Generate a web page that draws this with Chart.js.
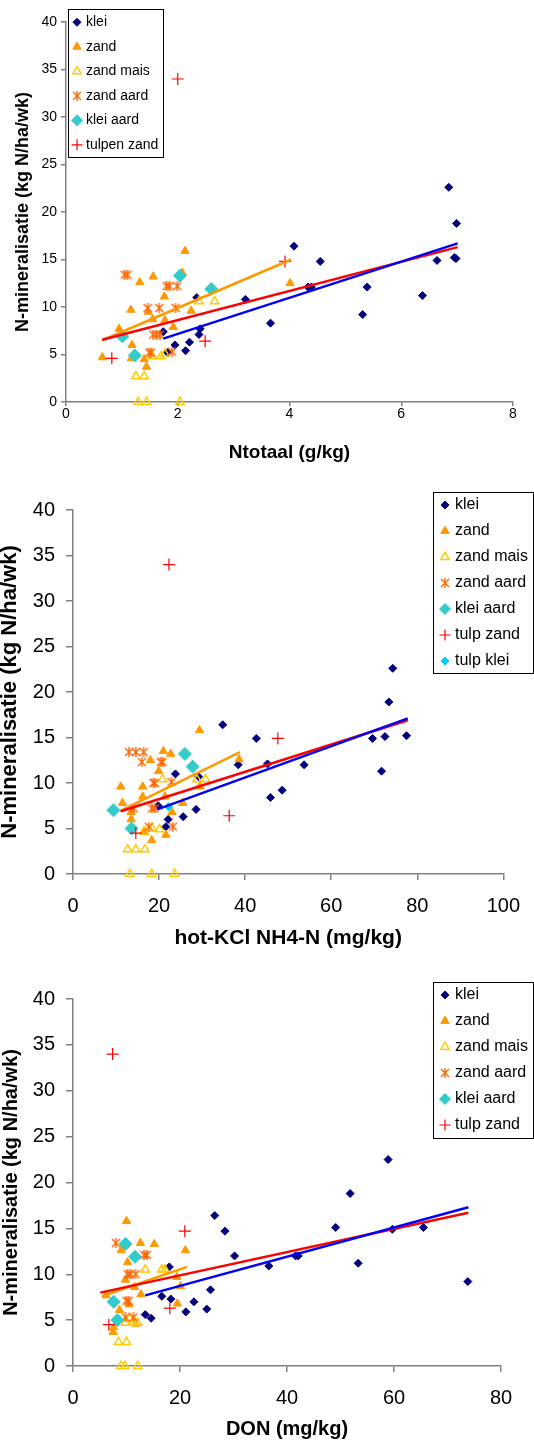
<!DOCTYPE html>
<html>
<head>
<meta charset="utf-8">
<script src="https://cdn.jsdelivr.net/npm/chart.js@4/dist/chart.umd.min.js"></script>
<style>
  body { margin: 0; background: #fff; width: 534px; height: 1445px; position: relative; overflow: hidden; }
  canvas { position: absolute; left: 0; }
</style>
</head>
<body>
<canvas id="chartNtot" width="534" height="480" style="top:0"></canvas>
<canvas id="chartKcl" width="534" height="480" style="top:480px"></canvas>
<canvas id="chartDon" width="534" height="485" style="top:960px"></canvas>
<script>
// --- chart 1: Ntotaal (g/kg) vs N-mineralisatie ---
const klei1 = [[1.74,7.4],[1.82,5.2],[1.95,6.0],[2.14,5.4],[2.21,6.3],[2.34,11.0],[2.38,7.1],[2.40,7.7],[3.21,10.8],[3.66,8.3],[4.08,16.4],[4.33,12.1],[4.39,12.1],[4.55,14.8],[5.31,9.2],[5.39,12.1],[6.38,11.2],[6.64,14.9],[6.85,22.6],[6.95,15.2],[6.98,15.1],[6.99,18.8]];
const zand1 = [[0.65,4.7],[0.95,7.7],[1.16,9.7],[1.18,6.0],[1.17,4.6],[1.32,12.6],[1.40,4.5],[1.44,3.7],[1.47,9.5],[1.56,13.2],[1.55,8.7],[1.76,11.1],[1.77,8.6],[1.92,7.9],[2.08,13.6],[2.13,15.9],[2.24,9.6],[4.01,12.5]];
const zandMais1 = [[1.25,2.7],[1.40,2.7],[1.29,0],[1.44,0],[2.04,0],[1.55,4.8],[1.70,4.8],[1.77,5.1],[2.38,10.6],[2.66,10.6]];
const zandAard1 = [[1.05,13.4],[1.10,13.4],[1.46,9.9],[1.67,9.9],[1.96,9.9],[1.49,5.2],[1.52,5.2],[1.56,7.1],[1.62,7.1],[1.68,7.1],[1.80,12.2],[1.85,12.2],[1.99,12.2],[1.90,5.3]];
const kleiAard1 = [[1.01,6.9],[1.23,4.9],[2.04,13.3],[2.60,11.9]];
const tulpZand1 = [[0.82,4.6],[2.49,6.4],[3.92,14.8],[2.0,34.0]];
const trendZand1 = [[0.65,6.5],[4.03,15.0]];
const trendAll1 = [[0.65,6.55],[7.01,16.3]];
const trendKlei1 = [[1.74,6.67],[7.01,16.7]];

// --- chart 2: hot-KCl NH4-N (mg/kg) ---
const klei2 = [[19.8,7.5],[22.1,6.0],[21.6,5.2],[23.8,11.0],[25.6,6.3],[28.6,7.1],[29.2,10.7],[34.8,16.4],[38.4,12.0],[42.6,14.9],[45.2,12.1],[45.9,8.4],[48.6,9.2],[53.7,12.0],[69.6,14.9],[71.7,11.3],[72.5,15.1],[73.4,18.9],[74.3,22.6],[77.5,15.2]];
const zand2 = [[11.1,9.6],[11.5,7.8],[13.5,6.8],[13.5,6.0],[16.2,9.6],[16.2,8.5],[16.6,4.6],[18.0,12.5],[18.3,3.7],[19.9,11.3],[21.0,13.5],[21.4,8.5],[21.6,4.3],[22.7,13.2],[23.0,6.8],[25.5,7.8],[29.4,15.8],[29.5,9.6],[38.6,12.6]];
const zandMais2 = [[12.7,2.7],[14.6,2.7],[16.7,2.7],[13.2,0],[18.3,0],[23.6,0],[16.5,4.7],[18.4,5.0],[20.1,4.9],[20.8,10.4],[28.8,10.4],[30.8,10.4]];
const zandAard2 = [[13.0,13.4],[14.6,13.4],[16.4,13.4],[16.0,12.3],[18.7,10.0],[19.0,10.0],[20.4,12.3],[20.8,12.3],[22.9,10.1],[14.1,7.2],[18.3,7.2],[19.0,7.2],[17.6,5.2],[23.2,5.2]];
const kleiAard2 = [[9.4,7.0],[13.6,5.0],[26.0,13.2],[27.8,11.8]];
const tulpZand2 = [[14.6,4.5],[36.3,6.4],[22.3,34.0],[47.6,14.9]];
const tulpKlei2 = [[22.2,7.4]];
const trendZand2 = [[10.9,6.9],[38.8,13.4]];
const trendAll2 = [[11.1,6.9],[77.8,16.9]];
const trendKlei2 = [[19.6,7.1],[77.8,17.1]];

// --- chart 3: DON (mg/kg) ---
const klei3 = [[18.0,10.8],[16.6,7.6],[18.3,7.3],[13.5,5.6],[14.6,5.2],[21.1,5.9],[22.6,7.0],[25.0,6.2],[25.7,8.3],[26.5,16.4],[28.4,14.7],[30.2,12.0],[36.6,10.9],[41.6,12.0],[42.1,12.0],[49.1,15.1],[51.8,18.8],[53.3,11.2],[58.9,22.5],[59.7,14.9],[65.5,15.1],[73.8,9.2]];
const zand3 = [[6.2,7.7],[7.5,3.7],[7.6,4.2],[8.7,6.1],[9.0,12.6],[10.0,15.8],[10.2,11.3],[9.8,9.4],[11.5,8.6],[12.7,7.8],[12.6,13.4],[15.2,13.3],[21.0,12.6],[19.4,9.7],[20.1,8.7],[19.5,6.8],[10.5,6.7],[11.7,4.6]];
const zandMais3 = [[8.5,2.6],[10.0,2.6],[9.0,0],[9.7,0],[12.1,0],[9.8,4.7],[11.3,4.7],[12.1,4.7],[10.6,5.2],[13.5,10.5],[16.6,10.5],[17.2,10.5]];
const zandAard3 = [[8.0,13.4],[10.2,10.0],[10.7,10.0],[11.7,10.0],[10.0,7.1],[10.4,7.1],[13.3,12.1],[13.8,12.1],[9.8,5.3],[11.3,5.3]];
const kleiAard3 = [[7.6,7.0],[8.3,5.0],[9.8,13.3],[11.6,11.9]];
const tulpZand3 = [[6.7,4.5],[20.9,14.7],[18.1,6.3],[7.4,34.0]];
const trendZand3 = [[5.4,7.6],[21.3,10.8]];
const trendAll3 = [[5.1,8.0],[73.9,16.7]];
const trendKlei3 = [[13.5,7.7],[73.9,17.3]];

const yTitle = "N-mineralisatie (kg N/ha/wk)";
const FONT = "'Liberation Sans', Arial, sans-serif";

function asterisk(color) {
  const c = document.createElement("canvas");
  c.width = 10;
  c.height = 10;
  const g = c.getContext("2d");
  g.strokeStyle = color;
  g.lineWidth = 1.4;
  g.beginPath();
  g.moveTo(1, 1); g.lineTo(9, 9);
  g.moveTo(9, 1); g.lineTo(1, 9);
  g.moveTo(5, 0); g.lineTo(5, 10);
  g.stroke();
  return c;
}

const styles = {
  klei: { pointStyle: "rectRot", pointRadius: 4, backgroundColor: "#000080", borderColor: "#000080", borderWidth: 1, order: 7 },
  zand: { pointStyle: "triangle", pointRadius: 4.8, backgroundColor: "#FF9900", borderColor: "#FF9900", borderWidth: 1, order: 6 },
  zandMais: { pointStyle: "triangle", pointRadius: 4.8, backgroundColor: "rgba(255,255,255,0)", borderColor: "#FFCC00", borderWidth: 1.5, order: 5 },
  zandAard: { pointStyle: asterisk("#FF6600"), pointRadius: 5, backgroundColor: "#FF6600", borderColor: "#FF6600", borderWidth: 1, order: 4 },
  kleiAard: { pointStyle: "rectRot", pointRadius: 6.5, backgroundColor: "#33CCCC", borderColor: "#33CCCC", borderWidth: 1, order: 3 },
  tulpZand: { pointStyle: "cross", pointRadius: 6, backgroundColor: "#FF0000", borderColor: "#FF0000", borderWidth: 1.2, order: 2 },
  tulpKlei: { pointStyle: "rectRot", pointRadius: 4, backgroundColor: "#00CCFF", borderColor: "#00CCFF", borderWidth: 1, order: 2 },
};

function toPoints(arr) {
  return arr.map((p) => ({ x: p[0], y: p[1] }));
}

function series(label, arr, style) {
  return Object.assign({ label: label, data: toPoints(arr), pointHoverRadius: style.pointRadius, clip: false }, style);
}

function trend(arr, color) {
  return {
    label: "",
    data: toPoints(arr),
    showLine: true,
    borderColor: color,
    borderWidth: 2.5,
    pointRadius: 0,
    fill: false,
    isTrend: true,
    order: 1,
  };
}

function drawMarker(ctx, ds, x, y) {
  const r = Math.min(ds.pointRadius, 5.5);
  ctx.fillStyle = ds.backgroundColor;
  ctx.strokeStyle = ds.borderColor;
  ctx.lineWidth = ds.borderWidth;
  if (ds.pointStyle instanceof HTMLCanvasElement) {
    ctx.drawImage(ds.pointStyle, x - 5, y - 5);
    return;
  }
  ctx.beginPath();
  if (ds.pointStyle === "rectRot") {
    ctx.moveTo(x - r, y);
    ctx.lineTo(x, y - r);
    ctx.lineTo(x + r, y);
    ctx.lineTo(x, y + r);
    ctx.closePath();
    ctx.fill();
    ctx.stroke();
  } else if (ds.pointStyle === "triangle") {
    ctx.moveTo(x, y - r);
    ctx.lineTo(x + r * 0.866, y + r / 2);
    ctx.lineTo(x - r * 0.866, y + r / 2);
    ctx.closePath();
    ctx.fill();
    ctx.stroke();
  } else {
    ctx.moveTo(x - r, y);
    ctx.lineTo(x + r, y);
    ctx.moveTo(x, y - r);
    ctx.lineTo(x, y + r);
    ctx.stroke();
  }
}

// legend drawn as a bordered box like the original spreadsheet chart
const boxLegend = {
  id: "boxLegend",
  afterDraw(chart, args, opts) {
    const ctx = chart.ctx;
    ctx.save();
    ctx.fillStyle = "#fff";
    ctx.fillRect(opts.left, opts.top, opts.width, opts.height);
    ctx.strokeStyle = "#000";
    ctx.lineWidth = 1;
    ctx.strokeRect(opts.left + 0.5, opts.top + 0.5, opts.width, opts.height);
    const items = chart.data.datasets.filter((d) => !d.isTrend);
    items.forEach((ds, i) => {
      const y = opts.top + opts.firstRow + i * opts.rowGap;
      drawMarker(ctx, ds, opts.markerX, y);
      ctx.fillStyle = "#000";
      ctx.font = opts.fontSize + "px " + FONT;
      ctx.textBaseline = "middle";
      ctx.textAlign = "left";
      ctx.fillText(ds.label, opts.textX, y);
    });
    ctx.restore();
  },
};

function makeChart(id, cfg) {
  const axisGrey = "#808080";
  return new Chart(document.getElementById(id), {
    type: "scatter",
    data: { datasets: cfg.datasets },
    options: {
      responsive: false,
      animation: false,
      devicePixelRatio: 1,
      layout: { padding: { top: cfg.plotTop, right: 534 - cfg.plotRight, left: 0, bottom: 0 } },
      plugins: {
        legend: { display: false },
        tooltip: { enabled: false },
        boxLegend: cfg.legend,
      },
      scales: {
        x: {
          type: "linear",
          min: 0,
          max: cfg.xMax,
          ticks: { stepSize: cfg.xStep, color: "#000", font: { family: FONT, size: cfg.tickSize }, padding: cfg.xTickPad, maxRotation: 0 },
          grid: { drawOnChartArea: false, tickLength: cfg.xTickLen, color: axisGrey, lineWidth: 1.5 },
          border: { color: axisGrey, width: 1.5 },
          title: { display: true, text: cfg.xTitle, color: "#000", font: { family: FONT, size: cfg.xTitleSize, weight: "bold", lineHeight: 1.2 }, padding: { top: 0, bottom: cfg.xTitlePad } },
          afterFit: (s) => { s.height = cfg.height - cfg.plotBottom; },
        },
        y: {
          type: "linear",
          min: 0,
          max: 40,
          ticks: { stepSize: 5, color: "#000", font: { family: FONT, size: cfg.tickSize }, padding: cfg.yTickPad },
          grid: { drawOnChartArea: false, tickLength: cfg.yTickLen, color: axisGrey, lineWidth: 1.5 },
          border: { color: axisGrey, width: 1.5 },
          title: { display: true, text: yTitle, color: "#000", font: { family: FONT, size: cfg.yTitleSize, weight: "bold", lineHeight: 1 }, padding: { top: cfg.yTitlePad, bottom: 0 } },
          afterFit: (s) => { s.width = cfg.plotLeft; },
        },
      },
    },
    plugins: [boxLegend],
  });
}

makeChart("chartNtot", {
  height: 480, plotLeft: 66, plotTop: 22, plotRight: 513, plotBottom: 402,
  xMax: 8, xStep: 2, tickSize: 14,
  xTickLen: 4, xTickPad: 0, yTickLen: 5, yTickPad: 4,
  xTitle: "Ntotaal (g/kg)", xTitleSize: 19, xTitlePad: 16,
  yTitleSize: 18, yTitlePad: 14,
  legend: { left: 68, top: 9, width: 95, height: 148, firstRow: 13.3, rowGap: 24.5, markerX: 77, textX: 86, fontSize: 14 },
  datasets: [
    series("klei", klei1, styles.klei),
    series("zand", zand1, styles.zand),
    series("zand mais", zandMais1, styles.zandMais),
    series("zand aard", zandAard1, styles.zandAard),
    series("klei aard", kleiAard1, styles.kleiAard),
    series("tulpen zand", tulpZand1, styles.tulpZand),
    trend(trendKlei1, "#0000FF"),
    trend(trendAll1, "#FF0000"),
    trend(trendZand1, "#FF9900"),
  ],
});

makeChart("chartKcl", {
  height: 480, plotLeft: 73, plotTop: 30, plotRight: 514, plotBottom: 394,
  xMax: 100, xStep: 20, tickSize: 20,
  xTickLen: 6, xTickPad: 14, yTickLen: 7, yTickPad: 11,
  xTitle: "hot-KCl NH4-N (mg/kg)", xTitleSize: 21, xTitlePad: 9,
  yTitleSize: 22, yTitlePad: -1,
  legend: { left: 433, top: 12, width: 100, height: 181, firstRow: 13, rowGap: 26, markerX: 445, textX: 455, fontSize: 16 },
  datasets: [
    series("klei", klei2, styles.klei),
    series("zand", zand2, styles.zand),
    series("zand mais", zandMais2, styles.zandMais),
    series("zand aard", zandAard2, styles.zandAard),
    series("klei aard", kleiAard2, styles.kleiAard),
    series("tulp zand", tulpZand2, styles.tulpZand),
    series("tulp klei", tulpKlei2, styles.tulpKlei),
    trend(trendKlei2, "#0000FF"),
    trend(trendAll2, "#FF0000"),
    trend(trendZand2, "#FF9900"),
  ],
});

makeChart("chartDon", {
  height: 485, plotLeft: 73, plotTop: 39, plotRight: 501, plotBottom: 406,
  xMax: 80, xStep: 20, tickSize: 20,
  xTickLen: 6, xTickPad: 14, yTickLen: 7, yTickPad: 11,
  xTitle: "DON (mg/kg)", xTitleSize: 20, xTitlePad: 4,
  yTitleSize: 20, yTitlePad: 1,
  legend: { left: 433, top: 22, width: 100, height: 156, firstRow: 13, rowGap: 26, markerX: 445, textX: 455, fontSize: 16 },
  datasets: [
    series("klei", klei3, styles.klei),
    series("zand", zand3, styles.zand),
    series("zand mais", zandMais3, styles.zandMais),
    series("zand aard", zandAard3, styles.zandAard),
    series("klei aard", kleiAard3, styles.kleiAard),
    series("tulp zand", tulpZand3, styles.tulpZand),
    trend(trendKlei3, "#0000FF"),
    trend(trendAll3, "#FF0000"),
    trend(trendZand3, "#FF9900"),
  ],
});
</script>
</body>
</html>
